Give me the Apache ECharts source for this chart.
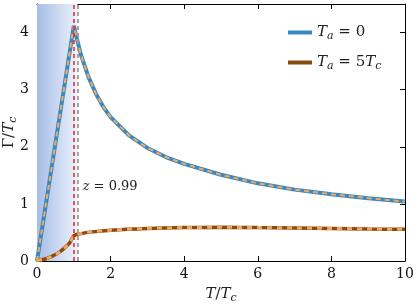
<!DOCTYPE html>
<html><head><meta charset="utf-8">
<script src="https://cdn.jsdelivr.net/npm/echarts@6/dist/echarts.min.js"></script>
<style>html,body{margin:0;padding:0;background:#fff}#c{width:416px;height:305px}</style>
</head><body><div id="c"></div>
<script>
var xTicks = [0, 2, 4, 6, 8, 10];
var yTicks = [0, 1, 2, 3, 4];
var tA0 = [[0,0],[1.0,4.12],[1.1,3.85],[1.2,3.60],[1.4,3.22],[1.6,2.93],[1.8,2.70],[2.0,2.52],[2.5,2.20],[3,1.98],[3.5,1.82],[4,1.70],[5,1.51],[6,1.36],[7,1.25],[8,1.17],[9,1.10],[10,1.04]];
var tA5 = [[0,0.01],[0.2,0.03],[0.4,0.08],[0.6,0.15],[0.8,0.26],[0.9,0.33],[1.0,0.44],[1.2,0.48],[1.5,0.51],[2,0.54],[3,0.57],[4,0.585],[5,0.59],[6,0.585],[7,0.58],[8,0.57],[9,0.56],[10,0.555]];
var zLine = 1.0, grayLine = 1.1, shadeEnd = 1.1;
var zLabel = 'z = 0.99';

var serif = 'DejaVu Serif';
var rich = {
  i: {fontFamily: serif, fontStyle: 'italic', fontSize: 15, color: '#222'},
  n: {fontFamily: serif, fontSize: 15, color: '#222'},
  s: {fontFamily: serif, fontStyle: 'italic', fontSize: 11, color: '#222', verticalAlign: 'bottom', padding: [8,0,0,0]}
};
var chart = echarts.init(document.getElementById('c'));
var axisCommon = {
  axisLine: {show: true, onZero: false, lineStyle: {color: '#000', width: 1}},
  axisTick: {show: true, inside: true, length: 5, lineStyle: {color: '#000'}},
  splitLine: {show: false}
};
chart.setOption({
  animation: false,
  grid: {left: 37, right: 11, top: 4, bottom: 44, show: false, containLabel: false, outerBoundsMode: 'none'},
  legend: {
    left: 283, top: 20, orient: 'vertical', itemGap: 13, itemWidth: 24, itemHeight: 4, icon: 'rect',
    data: ['a0', 'a5'],
    formatter: function (n) { return n === 'a0' ? '{i|T}{s|a}{n| = 0}' : '{i|T}{s|a}{n| = 5}{i|T}{s|c}'; },
    textStyle: {rich: rich, fontSize: 15}
  },
  xAxis: [
    Object.assign({type: 'value', min: 0, max: 10, interval: 2, position: 'bottom',
      name: '{i|T}{n|/}{i|T}{s|c}', nameLocation: 'middle', nameGap: 24, nameMoveOverlap: false,
      nameTextStyle: {rich: rich},
      axisLabel: {fontFamily: serif, fontSize: 14, color: '#111', margin: 6}}, axisCommon),
    Object.assign({type: 'value', min: 0, max: 10, interval: 2, position: 'top',
      axisLabel: {show: false}}, axisCommon)
  ],
  yAxis: [
    Object.assign({type: 'value', min: 0, max: 4.5, interval: 1, position: 'left',
      name: '{n|Γ/}{i|T}{s|c}', nameLocation: 'middle', nameGap: 18, nameMoveOverlap: false,
      nameTextStyle: {rich: rich},
      axisLabel: {fontFamily: serif, fontSize: 14, color: '#111', margin: 8,
        formatter: function (v) { return yTicks.indexOf(v) >= 0 ? String(v) : ''; }}}, axisCommon),
    Object.assign({type: 'value', min: 0, max: 4.5, interval: 1, position: 'right',
      axisLabel: {show: false}}, axisCommon)
  ],
  series: [
    {type: 'line', name: 'shade', data: [], silent: true,
      markArea: {silent: true, itemStyle: {color: new echarts.graphic.LinearGradient(0, 0, 1, 0, [
        {offset: 0, color: '#a6bde6'}, {offset: 1, color: '#edf2fb'}])},
        data: [[{xAxis: 0}, {xAxis: shadeEnd}]]},
      markLine: {silent: true, symbol: 'none', label: {show: false},
        data: [
          {xAxis: grayLine, lineStyle: {color: '#9a9a9a', type: [4, 3], width: 1.8}},
          {xAxis: zLine, lineStyle: {color: '#e8232b', type: [4, 3], width: 1.5}}
        ]}},
    {type: 'line', name: 'a0', data: tA0, showSymbol: false, color: '#3a88c2',
      lineStyle: {width: 4, color: '#3a88c2'}, z: 3},
    {type: 'line', name: 'a0d', data: tA0, showSymbol: false,
      lineStyle: {width: 2, color: '#f2ab5e', type: [5, 4]}, z: 4},
    {type: 'line', name: 'a5', data: tA5, showSymbol: false, color: '#8b4b10', smooth: 0.3,
      lineStyle: {width: 3.5, color: '#8b4b10'}, z: 3},
    {type: 'line', name: 'a5d', data: tA5, showSymbol: false, smooth: 0.3,
      lineStyle: {width: 3, color: '#efa860', type: [5, 5]}, z: 4}
  ]
});
var p = chart.convertToPixel({xAxisIndex: 0, yAxisIndex: 0}, [1.24, 1.32]);
chart.setOption({graphic: [{type: 'text', left: p[0], top: p[1] - 5,
  style: {text: '{i|z}{n| = 0.99}', rich: {i: {fontFamily: serif, fontStyle: 'italic', fontSize: 13, fill: '#222'}, n: {fontFamily: serif, fontSize: 13, fill: '#222'}}}}]});
</script></body></html>
